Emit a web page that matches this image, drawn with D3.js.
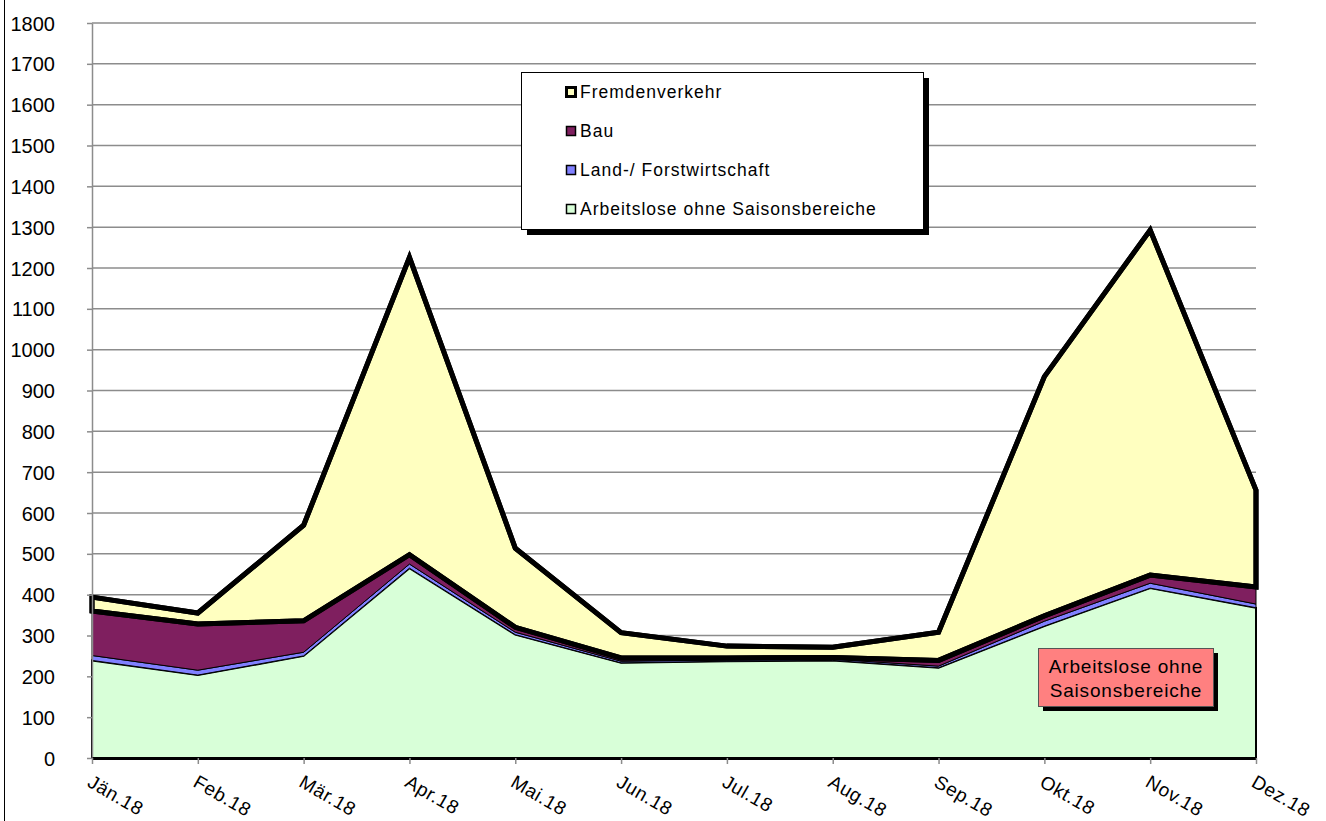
<!DOCTYPE html>
<html><head><meta charset="utf-8">
<script src="https://cdn.jsdelivr.net/npm/d3@7"></script>
<style>body{margin:0;background:#fff}svg{display:block}text{font-family:"Liberation Sans",Arial,sans-serif}</style>
</head><body>
<svg id="c" width="1326" height="821"></svg>
<script>
const months = ["Jän.18","Feb.18","Mär.18","Apr.18","Mai.18","Jun.18","Jul.18","Aug.18","Sep.18","Okt.18","Nov.18","Dez.18"];
const ohneSaison = [239,203,250,465,302,233,237,239,221,323,416,368];
const landForst  = [12,12,9,10,6,4,3,3,4,12,12,9];
const bau        = [109,113,77,23,12,8,5,4,14,13,20,42];
const fremden    = [34,27,234,728,194,62,29,25,69,586,845,237];
const yTicks = d3.range(0,1801,100);
const seriesNames = ["Arbeitslose ohne Saisonsbereiche","Land-/ Forstwirtschaft","Bau","Fremdenverkehr"];
const seriesColors = ["#D8FFD8","#8080FF","#7F1F5F","#FFFFC0"];

const svg = d3.select("#c");
const x = d3.scalePoint().domain(months).range([92,1256]);
const y = d3.scaleLinear().domain([0,1800]).range([758,23]);

svg.append("line").attr("x1",4.5).attr("x2",4.5).attr("y1",0).attr("y2",821).attr("stroke","#000").attr("stroke-width",1);

svg.append("g").selectAll("line").data(yTicks).join("line")
  .attr("x1",92).attr("x2",1256).attr("y1",d=>y(d)).attr("y2",d=>y(d))
  .attr("stroke","#8c8c8c").attr("stroke-width",1.5);

const rows = months.map((m,i)=>({m, s0:ohneSaison[i], s1:landForst[i], s2:bau[i], s3:fremden[i]}));
const stack = d3.stack().keys(["s0","s1","s2","s3"])(rows);
const area = d3.area().x(d=>x(d.data.m)).y0(d=>y(d[0])).y1(d=>y(d[1]));

const strokeW = [2,1,1,5];
stack.forEach((s,k)=>{
  svg.append("path").datum(s).attr("d",area)
    .attr("fill",seriesColors[k]).attr("stroke","#000")
    .attr("stroke-width",strokeW[k]).attr("stroke-linejoin","miter");
});
svg.append("path").datum(stack[3]).attr("d",area).attr("fill","none").attr("stroke","#000").attr("stroke-width",5);

const ya = svg.append("g").attr("transform","translate(92,0)")
  .call(d3.axisLeft(y).tickValues(yTicks).tickFormat(d3.format("d")).tickSize(5).tickSizeOuter(0));
ya.select(".domain").attr("stroke","#8c8c8c").attr("stroke-width",1.5);
ya.selectAll(".tick line").attr("stroke","#8c8c8c").attr("stroke-width",1.5);
ya.selectAll(".tick text").attr("font-size",20).attr("fill","#000").attr("x",-37).attr("text-anchor","end").attr("dy","0.35em");

const xa = svg.append("g").attr("transform","translate(0,758)")
  .call(d3.axisBottom(x).tickSize(6).tickSizeOuter(0));
xa.select(".domain").attr("stroke","#000").attr("stroke-width",3);
xa.selectAll(".tick line").attr("stroke","#8c8c8c").attr("stroke-width",1.5);
xa.selectAll(".tick text").attr("font-size",19).attr("fill","#000").attr("letter-spacing","0.6px")
  .attr("text-anchor","start").attr("transform","translate(-3,22) rotate(30)").attr("y",0).attr("dy","0.35em");

const lg = svg.append("g");
lg.append("rect").attr("x",527).attr("y",78).attr("width",402).attr("height",157).attr("fill","#000");
lg.append("rect").attr("x",521.5).attr("y",72.5).attr("width",402).attr("height",157).attr("fill","#fff").attr("stroke","#000").attr("stroke-width",1);
const order=[3,2,1,0];
order.forEach((k,i)=>{
  const yy = 92 + i*39;
  lg.append("rect").attr("x",566.5).attr("y",yy-4.5).attr("width",9).attr("height",9)
    .attr("fill",seriesColors[k]).attr("stroke","#000").attr("stroke-width",k===3?3:1.5);
  lg.append("text").attr("x",580).attr("y",yy).attr("dy","0.36em").attr("font-size",17.5).attr("letter-spacing","1px").text(seriesNames[k]);
});

const an = svg.append("g");
an.append("rect").attr("x",1043).attr("y",653).attr("width",175).attr("height",58).attr("fill","#000");
an.append("rect").attr("x",1038.5).attr("y",648.5).attr("width",175).attr("height",58).attr("fill","#FF8080").attr("stroke","#555").attr("stroke-width",1);
an.append("text").attr("x",1126).attr("y",666).attr("dy","0.36em").attr("text-anchor","middle").attr("font-size",19).attr("letter-spacing","0.8px").text("Arbeitslose ohne");
an.append("text").attr("x",1126).attr("y",690).attr("dy","0.36em").attr("text-anchor","middle").attr("font-size",19).attr("letter-spacing","0.8px").text("Saisonsbereiche");
</script>
</body></html>
